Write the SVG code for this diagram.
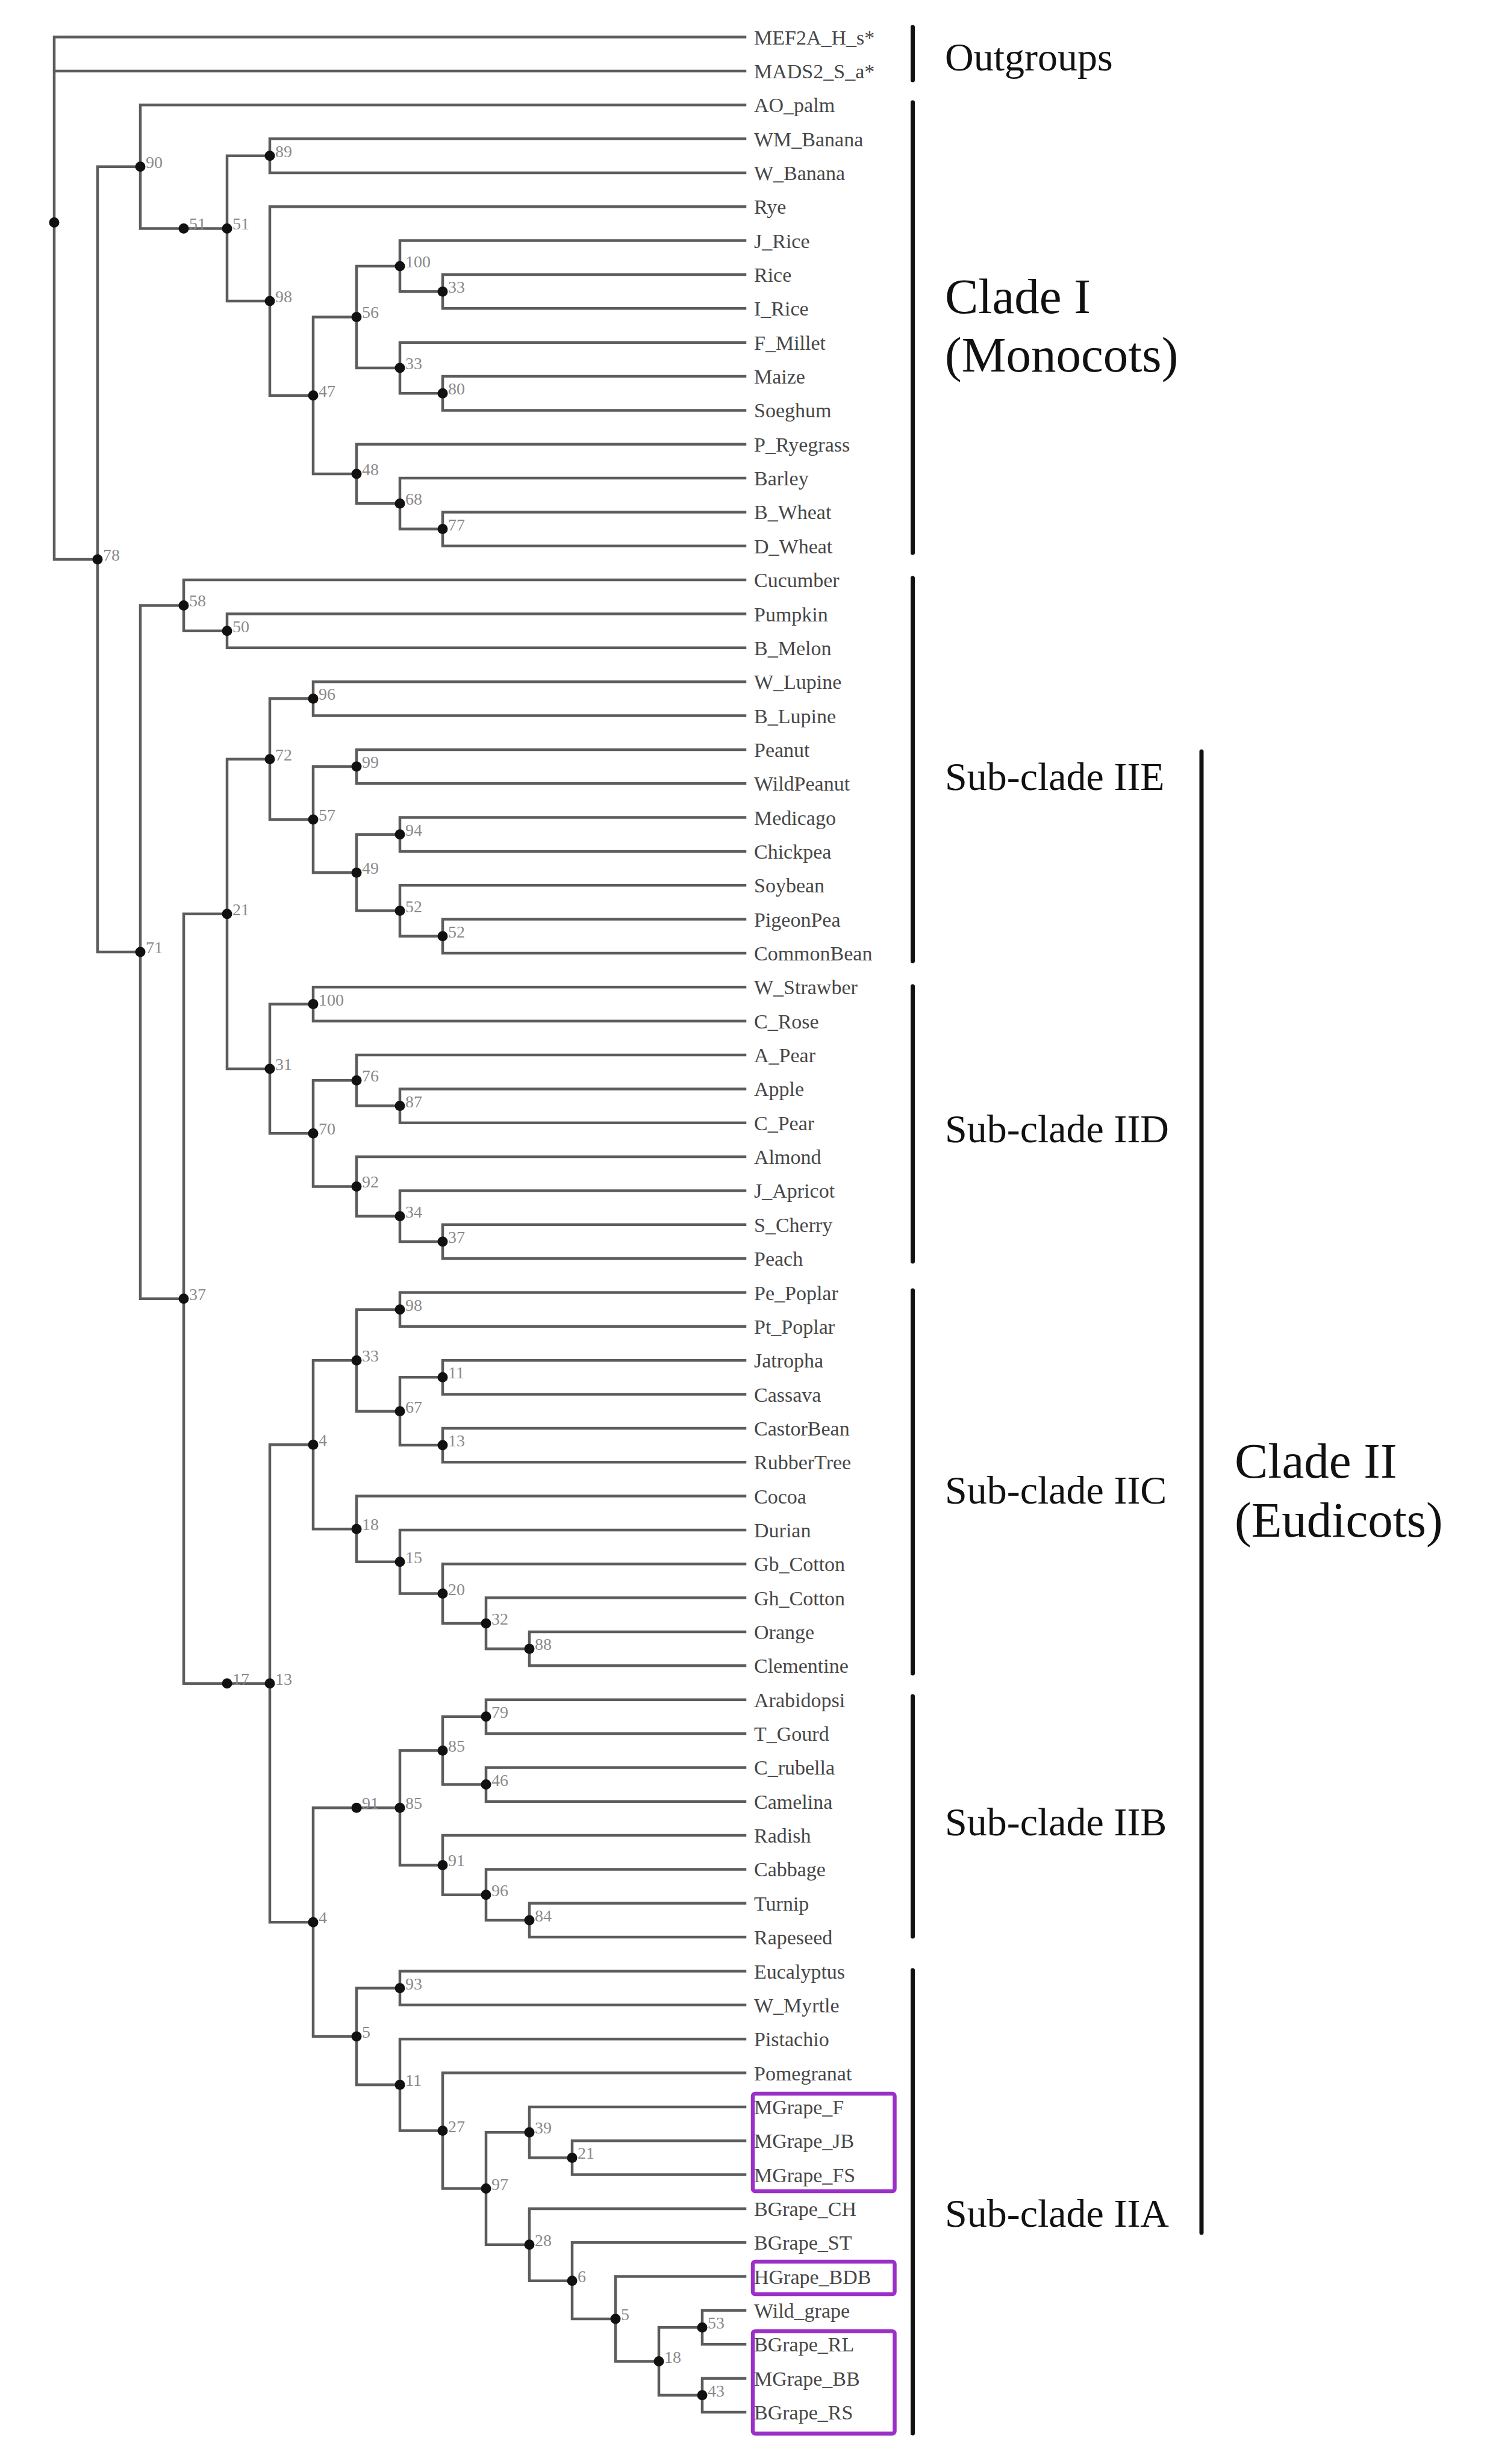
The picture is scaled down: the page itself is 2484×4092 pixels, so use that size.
<svg xmlns="http://www.w3.org/2000/svg" width="2484" height="4092" viewBox="0 0 2484 4092">
<style>
.br{fill:none;stroke:#5c5c5c;stroke-width:4.5;stroke-linejoin:miter;stroke-linecap:square}
.dot{fill:#111}
.bs{font-family:"Liberation Serif","Times New Roman",serif;font-size:28px;fill:#8a8a8a}
.lf{font-family:"Liberation Serif","Times New Roman",serif;font-size:34px;fill:#474747}
.cl{font-family:"Liberation Serif","Times New Roman",serif;fill:#111}
.s66{font-size:66px}
.s83{font-size:83px}
.bar{stroke:#111;stroke-width:7;stroke-linecap:round}
.box{fill:none;stroke:#9B30C8;stroke-width:6.5}
</style>
<rect width="2484" height="4092" fill="#fff"/>
<g id="connectors" class="br">
<path d="M1237,61.5 H90 V928.95 H162 M90,117.9 H1237"/>
<path d="M233,276.8 H162 V1581.1 H233"/>
<path d="M1237,174.2 H233 V379.4 H305"/>
<path d="M305,379.4 H377"/>
<path d="M448,258.75 H377 V500 H448"/>
<path d="M1237,230.6 H448 V286.9 H1237"/>
<path d="M1237,343.3 H448 V656.7 H520"/>
<path d="M592,526.4 H520 V787 H592"/>
<path d="M664,441.9 H592 V610.95 H664"/>
<path d="M1237,399.6 H664 V484.15 H735"/>
<path d="M1237,456 H735 V512.3 H1237"/>
<path d="M1237,568.7 H664 V653.2 H735"/>
<path d="M1237,625 H735 V681.4 H1237"/>
<path d="M1237,737.7 H592 V836.35 H664"/>
<path d="M1237,794.1 H664 V878.6 H735"/>
<path d="M1237,850.4 H735 V906.8 H1237"/>
<path d="M305,1005.4 H233 V2156.75 H305"/>
<path d="M1237,963.1 H305 V1047.65 H377"/>
<path d="M1237,1019.5 H377 V1075.8 H1237"/>
<path d="M377,1517.8 H305 V2795.7 H377"/>
<path d="M448,1260.7 H377 V1774.9 H448"/>
<path d="M520,1160.35 H448 V1361.1 H520"/>
<path d="M1237,1132.2 H520 V1188.5 H1237"/>
<path d="M592,1273.05 H520 V1449.15 H592"/>
<path d="M1237,1244.9 H592 V1301.2 H1237"/>
<path d="M664,1385.75 H592 V1512.55 H664"/>
<path d="M1237,1357.6 H664 V1413.9 H1237"/>
<path d="M1237,1470.3 H664 V1554.8 H735"/>
<path d="M1237,1526.6 H735 V1583 H1237"/>
<path d="M520,1667.5 H448 V1882.35 H520"/>
<path d="M1237,1639.3 H520 V1695.7 H1237"/>
<path d="M592,1794.3 H520 V1970.4 H592"/>
<path d="M1237,1752 H592 V1836.55 H664"/>
<path d="M1237,1808.4 H664 V1864.7 H1237"/>
<path d="M1237,1921.1 H592 V2019.7 H664"/>
<path d="M1237,1977.4 H664 V2061.95 H735"/>
<path d="M1237,2033.8 H735 V2090.1 H1237"/>
<path d="M377,2795.7 H448"/>
<path d="M520,2399.2 H448 V3192.15 H520"/>
<path d="M592,2259.2 H520 V2539.2 H592"/>
<path d="M664,2174.65 H592 V2343.7 H664"/>
<path d="M1237,2146.5 H664 V2202.8 H1237"/>
<path d="M735,2287.35 H664 V2400.05 H735"/>
<path d="M1237,2259.2 H735 V2315.5 H1237"/>
<path d="M1237,2371.9 H735 V2428.2 H1237"/>
<path d="M1237,2484.6 H592 V2593.75 H664"/>
<path d="M1237,2540.9 H664 V2646.6 H735"/>
<path d="M1237,2597.3 H735 V2695.9 H807"/>
<path d="M1237,2653.6 H807 V2738.15 H879"/>
<path d="M1237,2710 H879 V2766.3 H1237"/>
<path d="M592,3002.3 H520 V3382 H592"/>
<path d="M592,3002.3 H664"/>
<path d="M735,2907.2 H664 V3097.4 H735"/>
<path d="M807,2850.85 H735 V2963.55 H807"/>
<path d="M1237,2822.7 H807 V2879 H1237"/>
<path d="M1237,2935.4 H807 V2991.7 H1237"/>
<path d="M1237,3048.1 H735 V3146.7 H807"/>
<path d="M1237,3104.4 H807 V3188.95 H879"/>
<path d="M1237,3160.8 H879 V3217.1 H1237"/>
<path d="M664,3301.65 H592 V3462.35 H664"/>
<path d="M1237,3273.5 H664 V3329.8 H1237"/>
<path d="M1237,3386.2 H664 V3538.5 H735"/>
<path d="M1237,3442.5 H735 V3634.5 H807"/>
<path d="M879,3541.15 H807 V3727.8 H879"/>
<path d="M1237,3498.9 H879 V3583.4 H950"/>
<path d="M1237,3555.2 H950 V3611.6 H1237"/>
<path d="M1237,3667.9 H879 V3787.7 H950"/>
<path d="M1237,3724.3 H950 V3851.05 H1022"/>
<path d="M1237,3780.6 H1022 V3921.5 H1094"/>
<path d="M1166,3865.15 H1094 V3977.85 H1166"/>
<path d="M1237,3837 H1166 V3893.3 H1237"/>
<path d="M1237,3949.7 H1166 V4006 H1237"/>
</g>
<g id="internal-nodes">
<g id="n-root"><circle class="dot" cx="90" cy="369.45" r="8.5"/></g>
<g id="n78"><circle class="dot" cx="162" cy="928.95" r="8.5"/><text class="bs" x="171" y="931">78</text></g>
<g id="n90"><circle class="dot" cx="233" cy="276.8" r="8.5"/><text class="bs" x="242" y="279">90</text></g>
<g id="n51a"><circle class="dot" cx="305" cy="379.4" r="8.5"/><text class="bs" x="314" y="381">51</text></g>
<g id="n51b"><circle class="dot" cx="377" cy="379.4" r="8.5"/><text class="bs" x="386" y="381">51</text></g>
<g id="n89"><circle class="dot" cx="448" cy="258.75" r="8.5"/><text class="bs" x="457" y="261">89</text></g>
<g id="n98"><circle class="dot" cx="448" cy="500" r="8.5"/><text class="bs" x="457" y="502">98</text></g>
<g id="n47"><circle class="dot" cx="520" cy="656.7" r="8.5"/><text class="bs" x="529" y="659">47</text></g>
<g id="n56"><circle class="dot" cx="592" cy="526.4" r="8.5"/><text class="bs" x="601" y="528">56</text></g>
<g id="n100"><circle class="dot" cx="664" cy="441.9" r="8.5"/><text class="bs" x="673" y="444">100</text></g>
<g id="n33a"><circle class="dot" cx="735" cy="484.15" r="8.5"/><text class="bs" x="744" y="486">33</text></g>
<g id="n33b"><circle class="dot" cx="664" cy="610.95" r="8.5"/><text class="bs" x="673" y="613">33</text></g>
<g id="n80"><circle class="dot" cx="735" cy="653.2" r="8.5"/><text class="bs" x="744" y="655">80</text></g>
<g id="n48"><circle class="dot" cx="592" cy="787" r="8.5"/><text class="bs" x="601" y="789">48</text></g>
<g id="n68"><circle class="dot" cx="664" cy="836.35" r="8.5"/><text class="bs" x="673" y="838">68</text></g>
<g id="n77"><circle class="dot" cx="735" cy="878.6" r="8.5"/><text class="bs" x="744" y="881">77</text></g>
<g id="n71"><circle class="dot" cx="233" cy="1581.1" r="8.5"/><text class="bs" x="242" y="1583">71</text></g>
<g id="n58"><circle class="dot" cx="305" cy="1005.4" r="8.5"/><text class="bs" x="314" y="1007">58</text></g>
<g id="n50"><circle class="dot" cx="377" cy="1047.65" r="8.5"/><text class="bs" x="386" y="1050">50</text></g>
<g id="n37"><circle class="dot" cx="305" cy="2156.75" r="8.5"/><text class="bs" x="314" y="2159">37</text></g>
<g id="n21"><circle class="dot" cx="377" cy="1517.8" r="8.5"/><text class="bs" x="386" y="1520">21</text></g>
<g id="n72"><circle class="dot" cx="448" cy="1260.7" r="8.5"/><text class="bs" x="457" y="1263">72</text></g>
<g id="n96"><circle class="dot" cx="520" cy="1160.35" r="8.5"/><text class="bs" x="529" y="1162">96</text></g>
<g id="n57"><circle class="dot" cx="520" cy="1361.1" r="8.5"/><text class="bs" x="529" y="1363">57</text></g>
<g id="n99"><circle class="dot" cx="592" cy="1273.05" r="8.5"/><text class="bs" x="601" y="1275">99</text></g>
<g id="n49"><circle class="dot" cx="592" cy="1449.15" r="8.5"/><text class="bs" x="601" y="1451">49</text></g>
<g id="n94"><circle class="dot" cx="664" cy="1385.75" r="8.5"/><text class="bs" x="673" y="1388">94</text></g>
<g id="n52a"><circle class="dot" cx="664" cy="1512.55" r="8.5"/><text class="bs" x="673" y="1515">52</text></g>
<g id="n52b"><circle class="dot" cx="735" cy="1554.8" r="8.5"/><text class="bs" x="744" y="1557">52</text></g>
<g id="n31"><circle class="dot" cx="448" cy="1774.9" r="8.5"/><text class="bs" x="457" y="1777">31</text></g>
<g id="n100b"><circle class="dot" cx="520" cy="1667.5" r="8.5"/><text class="bs" x="529" y="1670">100</text></g>
<g id="n70"><circle class="dot" cx="520" cy="1882.35" r="8.5"/><text class="bs" x="529" y="1884">70</text></g>
<g id="n76"><circle class="dot" cx="592" cy="1794.3" r="8.5"/><text class="bs" x="601" y="1796">76</text></g>
<g id="n87"><circle class="dot" cx="664" cy="1836.55" r="8.5"/><text class="bs" x="673" y="1839">87</text></g>
<g id="n92"><circle class="dot" cx="592" cy="1970.4" r="8.5"/><text class="bs" x="601" y="1972">92</text></g>
<g id="n34"><circle class="dot" cx="664" cy="2019.7" r="8.5"/><text class="bs" x="673" y="2022">34</text></g>
<g id="n37b"><circle class="dot" cx="735" cy="2061.95" r="8.5"/><text class="bs" x="744" y="2064">37</text></g>
<g id="n17"><circle class="dot" cx="377" cy="2795.7" r="8.5"/><text class="bs" x="386" y="2798">17</text></g>
<g id="n13"><circle class="dot" cx="448" cy="2795.7" r="8.5"/><text class="bs" x="457" y="2798">13</text></g>
<g id="n4a"><circle class="dot" cx="520" cy="2399.2" r="8.5"/><text class="bs" x="529" y="2401">4</text></g>
<g id="n33c"><circle class="dot" cx="592" cy="2259.2" r="8.5"/><text class="bs" x="601" y="2261">33</text></g>
<g id="n98b"><circle class="dot" cx="664" cy="2174.65" r="8.5"/><text class="bs" x="673" y="2177">98</text></g>
<g id="n67"><circle class="dot" cx="664" cy="2343.7" r="8.5"/><text class="bs" x="673" y="2346">67</text></g>
<g id="n11a"><circle class="dot" cx="735" cy="2287.35" r="8.5"/><text class="bs" x="744" y="2289">11</text></g>
<g id="n13b"><circle class="dot" cx="735" cy="2400.05" r="8.5"/><text class="bs" x="744" y="2402">13</text></g>
<g id="n18"><circle class="dot" cx="592" cy="2539.2" r="8.5"/><text class="bs" x="601" y="2541">18</text></g>
<g id="n15"><circle class="dot" cx="664" cy="2593.75" r="8.5"/><text class="bs" x="673" y="2596">15</text></g>
<g id="n20"><circle class="dot" cx="735" cy="2646.6" r="8.5"/><text class="bs" x="744" y="2649">20</text></g>
<g id="n32"><circle class="dot" cx="807" cy="2695.9" r="8.5"/><text class="bs" x="816" y="2698">32</text></g>
<g id="n88"><circle class="dot" cx="879" cy="2738.15" r="8.5"/><text class="bs" x="888" y="2740">88</text></g>
<g id="n4b"><circle class="dot" cx="520" cy="3192.15" r="8.5"/><text class="bs" x="529" y="3194">4</text></g>
<g id="n91"><circle class="dot" cx="592" cy="3002.3" r="8.5"/><text class="bs" x="601" y="3004">91</text></g>
<g id="n85a"><circle class="dot" cx="664" cy="3002.3" r="8.5"/><text class="bs" x="673" y="3004">85</text></g>
<g id="n85b"><circle class="dot" cx="735" cy="2907.2" r="8.5"/><text class="bs" x="744" y="2909">85</text></g>
<g id="n79"><circle class="dot" cx="807" cy="2850.85" r="8.5"/><text class="bs" x="816" y="2853">79</text></g>
<g id="n46"><circle class="dot" cx="807" cy="2963.55" r="8.5"/><text class="bs" x="816" y="2966">46</text></g>
<g id="n91b"><circle class="dot" cx="735" cy="3097.4" r="8.5"/><text class="bs" x="744" y="3099">91</text></g>
<g id="n96b"><circle class="dot" cx="807" cy="3146.7" r="8.5"/><text class="bs" x="816" y="3149">96</text></g>
<g id="n84"><circle class="dot" cx="879" cy="3188.95" r="8.5"/><text class="bs" x="888" y="3191">84</text></g>
<g id="n5a"><circle class="dot" cx="592" cy="3382" r="8.5"/><text class="bs" x="601" y="3384">5</text></g>
<g id="n93"><circle class="dot" cx="664" cy="3301.65" r="8.5"/><text class="bs" x="673" y="3304">93</text></g>
<g id="n11b"><circle class="dot" cx="664" cy="3462.35" r="8.5"/><text class="bs" x="673" y="3464">11</text></g>
<g id="n27"><circle class="dot" cx="735" cy="3538.5" r="8.5"/><text class="bs" x="744" y="3541">27</text></g>
<g id="n97"><circle class="dot" cx="807" cy="3634.5" r="8.5"/><text class="bs" x="816" y="3637">97</text></g>
<g id="n39"><circle class="dot" cx="879" cy="3541.15" r="8.5"/><text class="bs" x="888" y="3543">39</text></g>
<g id="n21b"><circle class="dot" cx="950" cy="3583.4" r="8.5"/><text class="bs" x="959" y="3585">21</text></g>
<g id="n28"><circle class="dot" cx="879" cy="3727.8" r="8.5"/><text class="bs" x="888" y="3730">28</text></g>
<g id="n6"><circle class="dot" cx="950" cy="3787.7" r="8.5"/><text class="bs" x="959" y="3790">6</text></g>
<g id="n5b"><circle class="dot" cx="1022" cy="3851.05" r="8.5"/><text class="bs" x="1031" y="3853">5</text></g>
<g id="n18b"><circle class="dot" cx="1094" cy="3921.5" r="8.5"/><text class="bs" x="1103" y="3924">18</text></g>
<g id="n53"><circle class="dot" cx="1166" cy="3865.15" r="8.5"/><text class="bs" x="1175" y="3867">53</text></g>
<g id="n43"><circle class="dot" cx="1166" cy="3977.85" r="8.5"/><text class="bs" x="1175" y="3980">43</text></g>
</g>
<g id="leaves" class="lf">
<g id="leaf-MEF2A_H_s"><text x="1252" y="73.5">MEF2A_H_s*</text></g>
<g id="leaf-MADS2_S_a"><text x="1252" y="129.9">MADS2_S_a*</text></g>
<g id="leaf-AO_palm"><text x="1252" y="186.2">AO_palm</text></g>
<g id="leaf-WM_Banana"><text x="1252" y="242.6">WM_Banana</text></g>
<g id="leaf-W_Banana"><text x="1252" y="298.9">W_Banana</text></g>
<g id="leaf-Rye"><text x="1252" y="355.3">Rye</text></g>
<g id="leaf-J_Rice"><text x="1252" y="411.6">J_Rice</text></g>
<g id="leaf-Rice"><text x="1252" y="468">Rice</text></g>
<g id="leaf-I_Rice"><text x="1252" y="524.3">I_Rice</text></g>
<g id="leaf-F_Millet"><text x="1252" y="580.7">F_Millet</text></g>
<g id="leaf-Maize"><text x="1252" y="637">Maize</text></g>
<g id="leaf-Soeghum"><text x="1252" y="693.4">Soeghum</text></g>
<g id="leaf-P_Ryegrass"><text x="1252" y="749.7">P_Ryegrass</text></g>
<g id="leaf-Barley"><text x="1252" y="806.1">Barley</text></g>
<g id="leaf-B_Wheat"><text x="1252" y="862.4">B_Wheat</text></g>
<g id="leaf-D_Wheat"><text x="1252" y="918.8">D_Wheat</text></g>
<g id="leaf-Cucumber"><text x="1252" y="975.1">Cucumber</text></g>
<g id="leaf-Pumpkin"><text x="1252" y="1031.5">Pumpkin</text></g>
<g id="leaf-B_Melon"><text x="1252" y="1087.8">B_Melon</text></g>
<g id="leaf-W_Lupine"><text x="1252" y="1144.2">W_Lupine</text></g>
<g id="leaf-B_Lupine"><text x="1252" y="1200.5">B_Lupine</text></g>
<g id="leaf-Peanut"><text x="1252" y="1256.9">Peanut</text></g>
<g id="leaf-WildPeanut"><text x="1252" y="1313.2">WildPeanut</text></g>
<g id="leaf-Medicago"><text x="1252" y="1369.6">Medicago</text></g>
<g id="leaf-Chickpea"><text x="1252" y="1425.9">Chickpea</text></g>
<g id="leaf-Soybean"><text x="1252" y="1482.3">Soybean</text></g>
<g id="leaf-PigeonPea"><text x="1252" y="1538.6">PigeonPea</text></g>
<g id="leaf-CommonBean"><text x="1252" y="1595">CommonBean</text></g>
<g id="leaf-W_Strawber"><text x="1252" y="1651.3">W_Strawber</text></g>
<g id="leaf-C_Rose"><text x="1252" y="1707.7">C_Rose</text></g>
<g id="leaf-A_Pear"><text x="1252" y="1764">A_Pear</text></g>
<g id="leaf-Apple"><text x="1252" y="1820.4">Apple</text></g>
<g id="leaf-C_Pear"><text x="1252" y="1876.7">C_Pear</text></g>
<g id="leaf-Almond"><text x="1252" y="1933.1">Almond</text></g>
<g id="leaf-J_Apricot"><text x="1252" y="1989.4">J_Apricot</text></g>
<g id="leaf-S_Cherry"><text x="1252" y="2045.8">S_Cherry</text></g>
<g id="leaf-Peach"><text x="1252" y="2102.1">Peach</text></g>
<g id="leaf-Pe_Poplar"><text x="1252" y="2158.5">Pe_Poplar</text></g>
<g id="leaf-Pt_Poplar"><text x="1252" y="2214.8">Pt_Poplar</text></g>
<g id="leaf-Jatropha"><text x="1252" y="2271.2">Jatropha</text></g>
<g id="leaf-Cassava"><text x="1252" y="2327.5">Cassava</text></g>
<g id="leaf-CastorBean"><text x="1252" y="2383.9">CastorBean</text></g>
<g id="leaf-RubberTree"><text x="1252" y="2440.2">RubberTree</text></g>
<g id="leaf-Cocoa"><text x="1252" y="2496.6">Cocoa</text></g>
<g id="leaf-Durian"><text x="1252" y="2552.9">Durian</text></g>
<g id="leaf-Gb_Cotton"><text x="1252" y="2609.3">Gb_Cotton</text></g>
<g id="leaf-Gh_Cotton"><text x="1252" y="2665.6">Gh_Cotton</text></g>
<g id="leaf-Orange"><text x="1252" y="2722">Orange</text></g>
<g id="leaf-Clementine"><text x="1252" y="2778.3">Clementine</text></g>
<g id="leaf-Arabidopsi"><text x="1252" y="2834.7">Arabidopsi</text></g>
<g id="leaf-T_Gourd"><text x="1252" y="2891">T_Gourd</text></g>
<g id="leaf-C_rubella"><text x="1252" y="2947.4">C_rubella</text></g>
<g id="leaf-Camelina"><text x="1252" y="3003.7">Camelina</text></g>
<g id="leaf-Radish"><text x="1252" y="3060.1">Radish</text></g>
<g id="leaf-Cabbage"><text x="1252" y="3116.4">Cabbage</text></g>
<g id="leaf-Turnip"><text x="1252" y="3172.8">Turnip</text></g>
<g id="leaf-Rapeseed"><text x="1252" y="3229.1">Rapeseed</text></g>
<g id="leaf-Eucalyptus"><text x="1252" y="3285.5">Eucalyptus</text></g>
<g id="leaf-W_Myrtle"><text x="1252" y="3341.8">W_Myrtle</text></g>
<g id="leaf-Pistachio"><text x="1252" y="3398.2">Pistachio</text></g>
<g id="leaf-Pomegranat"><text x="1252" y="3454.5">Pomegranat</text></g>
<g id="leaf-MGrape_F"><text x="1252" y="3510.9">MGrape_F</text></g>
<g id="leaf-MGrape_JB"><text x="1252" y="3567.2">MGrape_JB</text></g>
<g id="leaf-MGrape_FS"><text x="1252" y="3623.6">MGrape_FS</text></g>
<g id="leaf-BGrape_CH"><text x="1252" y="3679.9">BGrape_CH</text></g>
<g id="leaf-BGrape_ST"><text x="1252" y="3736.3">BGrape_ST</text></g>
<g id="leaf-HGrape_BDB"><text x="1252" y="3792.6">HGrape_BDB</text></g>
<g id="leaf-Wild_grape"><text x="1252" y="3849">Wild_grape</text></g>
<g id="leaf-BGrape_RL"><text x="1252" y="3905.3">BGrape_RL</text></g>
<g id="leaf-MGrape_BB"><text x="1252" y="3961.7">MGrape_BB</text></g>
<g id="leaf-BGrape_RS"><text x="1252" y="4018">BGrape_RS</text></g>
</g>
<g id="highlight-boxes">
<rect class="box" x="1250" y="3477" width="235.5" height="162" rx="4"/>
<rect class="box" x="1250" y="3756" width="235.5" height="54" rx="4"/>
<rect class="box" x="1250" y="3871.5" width="235.5" height="170" rx="4"/>
</g>
<g id="clade-bars">
<line class="bar" x1="1515.5" y1="45" x2="1515.5" y2="133"/>
<line class="bar" x1="1515.5" y1="170" x2="1515.5" y2="918"/>
<line class="bar" x1="1515.5" y1="960" x2="1515.5" y2="1596"/>
<line class="bar" x1="1515.5" y1="1638" x2="1515.5" y2="2095"/>
<line class="bar" x1="1515.5" y1="2143" x2="1515.5" y2="2779"/>
<line class="bar" x1="1515.5" y1="2817" x2="1515.5" y2="3216"/>
<line class="bar" x1="1515.5" y1="3272" x2="1515.5" y2="4041"/>
<line class="bar" x1="1995" y1="1248" x2="1995" y2="3708"/>
</g>
<g id="clade-labels" class="cl">
<g id="label-outgroups"><text class="s66" x="1569" y="117">Outgroups</text></g>
<g id="label-clade1"><text class="s83" x="1569" y="520">Clade I</text><text class="s83" x="1569" y="617">(Monocots)</text></g>
<g id="label-IIE"><text class="s66" x="1569" y="1312">Sub-clade IIE</text></g>
<g id="label-IID"><text class="s66" x="1569" y="1897">Sub-clade IID</text></g>
<g id="label-IIC"><text class="s66" x="1569" y="2497">Sub-clade IIC</text></g>
<g id="label-IIB"><text class="s66" x="1569" y="3048">Sub-clade IIB</text></g>
<g id="label-IIA"><text class="s66" x="1569" y="3698">Sub-clade IIA</text></g>
<g id="label-clade2"><text class="s83" x="2050" y="2454">Clade II</text><text class="s83" x="2050" y="2552">(Eudicots)</text></g>
</g>
</svg>
